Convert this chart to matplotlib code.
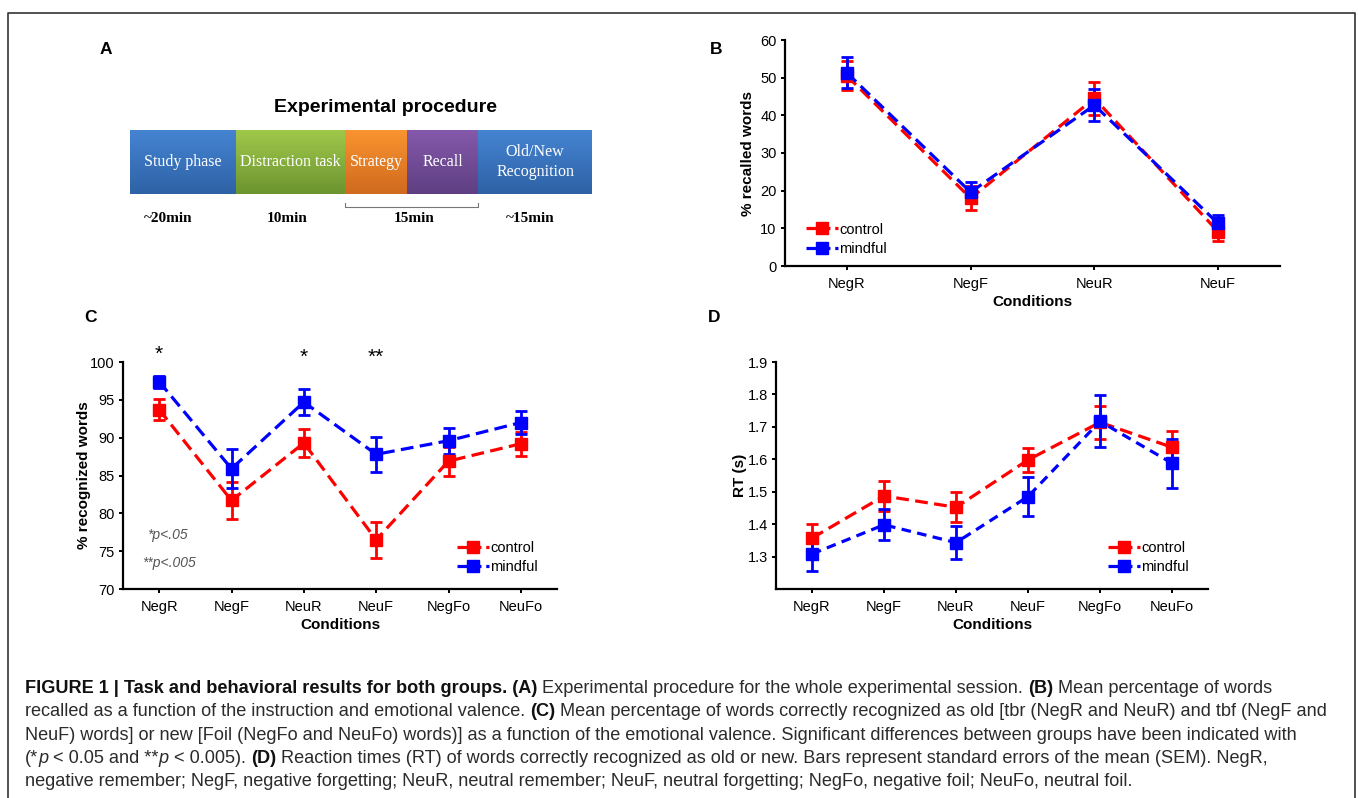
import numpy as np
import matplotlib.pyplot as plt
from matplotlib.font_manager import FontProperties
from matplotlib.lines import Line2D

plt.rcParams['font.family'] = ['Liberation Sans', 'DejaVu Sans']

W, H = 1358, 798

# ---- data -------------------------------------------------------------
cond_b = ["NegR", "NegF", "NeuR", "NeuF"]
recall_control = [50.5, 18.0, 44.5, 9.1]
recall_control_err = [3.8, 3.2, 4.4, 2.4]
recall_mindful = [51.3, 19.6, 42.7, 11.3]
recall_mindful_err = [4.1, 2.8, 4.2, 2.3]

cond_cd = ["NegR", "NegF", "NeuR", "NeuF", "NegFo", "NeuFo"]
recog_control = [93.7, 81.7, 89.3, 76.5, 86.9, 89.2]
recog_control_err = [1.4, 2.5, 1.8, 2.4, 1.9, 1.6]
recog_mindful = [97.4, 85.9, 94.7, 87.8, 89.6, 92.0]
recog_mindful_err = [0.8, 2.6, 1.7, 2.3, 1.7, 1.5]
signif = ["*", "", "*", "**", "", ""]

rt_control = [1.357, 1.487, 1.452, 1.598, 1.714, 1.637]
rt_control_err = [0.044, 0.045, 0.046, 0.038, 0.051, 0.051]
rt_mindful = [1.308, 1.398, 1.343, 1.485, 1.717, 1.588]
rt_mindful_err = [0.052, 0.048, 0.050, 0.060, 0.080, 0.076]

phases = ["Study phase", "Distraction task", "Strategy", "Recall", "Old/New\nRecognition"]
phase_len = [106, 109, 63, 71, 114]
phase_top = ["#4584d2", "#a0c84a", "#f99430", "#8459ab", "#4584d2"]
phase_bot = ["#2e62a6", "#6c9430", "#d06a1e", "#5f3f82", "#2e62a6"]
time_labels = ["~20min", "10min", "15min", "~15min"]

RED, BLUE = "#ff0000", "#0000ff"

fig = plt.figure(figsize=(W / 100, H / 100), dpi=100)

# overlay in pixel coordinates: frame, panel letters, caption
ov = fig.add_axes([0, 0, 1, 1])
ov.set_xlim(0, W)
ov.set_ylim(H, 0)
ov.axis("off")
ov.plot([8, 8, 1355, 1355], [H + 5, 13, 13, H + 5], color="#333333", lw=1.2, clip_on=False)
for lab, x, y in [("A", 100, 50), ("B", 710, 50), ("C", 84, 318), ("D", 708, 318)]:
    ov.text(x, y, lab, fontsize=12.5, fontweight="bold", va="center", ha="left")


def pix_axes(l, t, r, b):
    return fig.add_axes([l / W, (H - b) / H, (r - l) / W, (b - t) / H])


# ---- panel A ----------------------------------------------------------
axA = pix_axes(130, 90, 592, 235)
starts = np.concatenate([[0], np.cumsum(phase_len)[:-1]])
for s, w, name, c0, c1 in zip(starts, phase_len, phases, phase_top, phase_bot):
    grad = np.linspace(0, 1, 64)[:, None, None]
    rgb0 = np.array(plt.matplotlib.colors.to_rgb(c0))
    rgb1 = np.array(plt.matplotlib.colors.to_rgb(c1))
    img = rgb0 * (1 - grad) + rgb1 * grad
    axA.imshow(img, extent=[s, s + w, 104, 40], aspect="auto", interpolation="bilinear")
    axA.text(s + w / 2, 72, name, color="white", ha="center", va="center",
             family="Liberation Serif", fontsize=11.5, linespacing=1.3)
axA.set_xlim(0, sum(phase_len))
axA.set_ylim(145, 0)
axA.axis("off")
axA.text(sum(phase_len) / 2 + 25, 18, "Experimental procedure", ha="center", va="center",
         fontsize=14, fontweight="bold")
b0, b1 = starts[2], starts[4]
axA.plot([b0, b0, b1, b1], [113, 117, 117, 113], color="#777777", lw=0.8)
time_x = [starts[0] + phase_len[0] / 2 - 15, starts[1] + phase_len[1] / 2 - 3,
          (b0 + b1) / 2 + 3, starts[4] + phase_len[4] / 2 - 5]
for x, lab in zip(time_x, time_labels):
    axA.text(x, 128, lab, ha="center", va="center", family="Liberation Serif",
             fontsize=11, fontweight="bold")


def style_axes(ax, labels, ylabel, lpad):
    for sp in ["top", "right"]:
        ax.spines[sp].set_visible(False)
    for sp in ["left", "bottom"]:
        ax.spines[sp].set_linewidth(1.6)
    ax.set_xticks(range(len(labels)))
    ax.set_xticklabels(labels)
    ax.set_xlim(-0.5, len(labels) - 0.5)
    ax.tick_params(width=1.4, length=3, labelsize=10.5, pad=3)
    ax.tick_params(axis="x", pad=5)
    ax.set_xlabel("Conditions", fontsize=11, fontweight="bold", labelpad=3)
    ax.set_ylabel(ylabel, fontsize=11, fontweight="bold", labelpad=lpad)


def draw_series(ax, y, e, color, dash):
    x = np.arange(len(y))
    ax.errorbar(x, y, yerr=e, color=color, lw=2.3, ls=(0, dash), marker="s", ms=9,
                capsize=4, capthick=2, elinewidth=2, clip_on=False)


def add_legend(ax, **kw):
    h = [Line2D([], [], color=RED, ls=(0, (3, 1.5)), lw=2.3, marker="s", ms=9),
         Line2D([], [], color=BLUE, ls=(0, (3, 1.5)), lw=2.3, marker="s", ms=9)]
    ax.legend(h, ["control", "mindful"], frameon=False, fontsize=10.5, handlelength=2.2,
              handletextpad=0.1, labelspacing=0.35, borderaxespad=0, **kw)


# ---- panel B ----------------------------------------------------------
axB = pix_axes(785, 40, 1280, 266)
draw_series(axB, recall_control, recall_control_err, RED, (4, 2))
draw_series(axB, recall_mindful, recall_mindful_err, BLUE, (4, 2))
axB.set_ylim(0, 60)
axB.set_yticks(range(0, 61, 10))
style_axes(axB, cond_b, "% recalled words", 4)
add_legend(axB, loc="lower left", bbox_to_anchor=(0.03, 0.02))

# ---- panel C ----------------------------------------------------------
axC = pix_axes(123, 362, 557, 589)
draw_series(axC, recog_control, recog_control_err, RED, (4, 2))
draw_series(axC, recog_mindful, recog_mindful_err, BLUE, (4, 2))
axC.set_ylim(70, 100)
axC.set_yticks(range(70, 101, 5))
style_axes(axC, cond_cd, "% recognized words", -1)
for i, s in enumerate(signif):
    if s:
        axC.text(i, 101.0 if i == 0 else 100.6, s, ha="center", va="center", fontsize=15,
                 clip_on=False)
axC.text(-0.17, 77.1, "*p<.05", fontsize=10, style="italic", color="#555555", va="center")
axC.text(-0.24, 73.4, "**p<.005", fontsize=10, style="italic", color="#555555", va="center")
add_legend(axC, loc="lower right", bbox_to_anchor=(0.97, 0.04))

# ---- panel D ----------------------------------------------------------
axD = pix_axes(776, 362, 1208, 589)
draw_series(axD, rt_control, rt_control_err, RED, (4, 2))
draw_series(axD, rt_mindful, rt_mindful_err, BLUE, (3, 2))
axD.set_ylim(1.2, 1.9)
axD.set_yticks(np.arange(1.3, 1.91, 0.1))
axD.set_yticklabels([f"{v:.1f}" for v in np.arange(1.3, 1.91, 0.1)])
style_axes(axD, cond_cd, "RT (s)", 0.5)
add_legend(axD, loc="lower right", bbox_to_anchor=(0.97, 0.04))

# ---- caption ----------------------------------------------------------
renderer = fig.canvas.get_renderer()
cap_size = 13.1


def text_width(s, weight, style):
    fp = FontProperties(family="Liberation Sans", size=cap_size, weight=weight, style=style)
    w1 = renderer.get_text_width_height_descent("a" + s + "a", fp, ismath=False)[0]
    w0 = renderer.get_text_width_height_descent("aa", fp, ismath=False)[0]
    return w1 - w0


caption = [
    [("FIGURE 1 | Task and behavioral results for both groups. (A)", "b"),
     (" Experimental procedure for the whole experimental session. ", "r"), ("(B)", "b"),
     (" Mean percentage of words", "r")],
    [("recalled as a function of the instruction and emotional valence. ", "r"), ("(C)", "b"),
     (" Mean percentage of words correctly recognized as old [tbr (NegR and NeuR) and tbf (NegF and", "r")],
    [("NeuF) words] or new [Foil (NegFo and NeuFo) words)] as a function of the emotional valence. "
      "Significant differences between groups have been indicated with", "r")],
    [("(*", "r"), ("p", "i"), (" < 0.05 and **", "r"), ("p", "i"), (" < 0.005). ", "r"), ("(D)", "b"),
     (" Reaction times (RT) of words correctly recognized as old or new. Bars represent standard "
      "errors of the mean (SEM). NegR,", "r")],
    [("negative remember; NegF, negative forgetting; NeuR, neutral remember; NeuF, neutral "
      "forgetting; NegFo, negative foil; NeuFo, neutral foil.", "r")],
]
scale = W / fig.bbox.width
for k, line in enumerate(caption):
    x = 25
    y = 693 + k * 23.3
    for txt, st in line:
        weight = "bold" if st == "b" else "normal"
        style = "italic" if st == "i" else "normal"
        color = "#111111" if st == "b" else "#2b2b2b"
        ov.text(x, y, txt, fontsize=cap_size, fontweight=weight, style=style, color=color,
                family="Liberation Sans", va="baseline", ha="left")
        x += text_width(txt, weight, style) * scale

fig.savefig("out.png", dpi=100)
